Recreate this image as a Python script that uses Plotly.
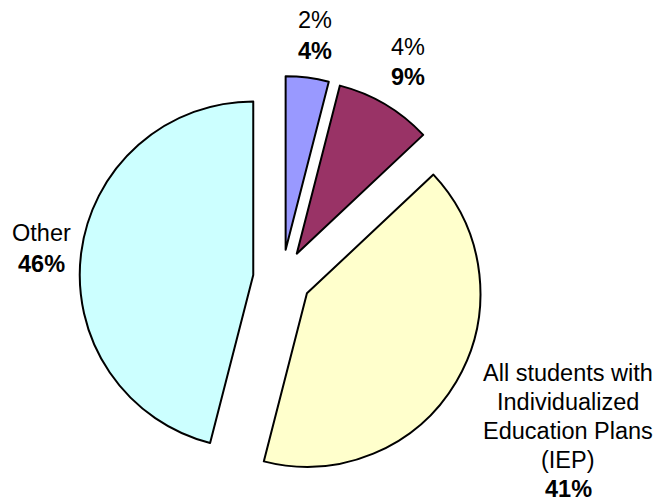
import plotly.graph_objects as go

# ---- data ----
categories = ["Group A", "Group B", "All students with Individualized Education Plans (IEP)", "Other"]
upper_lines = [["2%"], ["4%"], ["All students with", "Individualized", "Education Plans", "(IEP)"], ["Other"]]
shares = [4, 9, 41, 46]

# ---- styles / layout ----
colors = ["#9999FF", "#993366", "#FFFFCC", "#CCFFFF"]
W, H = 660, 504
CX, CY, R, PULL = 282, 278.6, 173.5, 0.167
HALF = R * (1 + PULL)
FONT = "Liberation Sans, Arial, sans-serif"
FS = 23.5
# label layout: centre x (px), baseline of first line (px), line spacing (px)
label_pos = [(315, 28, 31), (407.5, 55, 30), (568, 381, 29), (41.2, 241, 31)]

fig = go.Figure(go.Pie(
    labels=categories,
    values=shares,
    sort=False,
    direction="clockwise",
    rotation=0,
    pull=[PULL] * len(shares),
    marker=dict(colors=colors, line=dict(color="black", width=2)),
    textinfo="none",
    hoverinfo="label+percent",
    showlegend=False,
    domain=dict(x=[(CX - HALF) / W, (CX + HALF) / W],
                y=[(H - CY - HALF) / H, (H - CY + HALF) / H]),
))

annotations = []
for lines, pct, (lx, base, sp) in zip(upper_lines, shares, label_pos):
    all_lines = lines + [f"<b>{pct}%</b>"]
    for i, t in enumerate(all_lines):
        b = base + i * sp
        yc = b - 0.3465 * FS
        annotations.append(dict(
            text=t, x=lx / W, y=1 - yc / H, xref="paper", yref="paper",
            xanchor="center", yanchor="middle", showarrow=False,
            font=dict(family=FONT, size=FS, color="black"),
        ))

fig.update_layout(
    width=W, height=H,
    margin=dict(l=0, r=0, t=0, b=0),
    paper_bgcolor="white", plot_bgcolor="white",
    annotations=annotations,
)

fig.write_html("out.html")
